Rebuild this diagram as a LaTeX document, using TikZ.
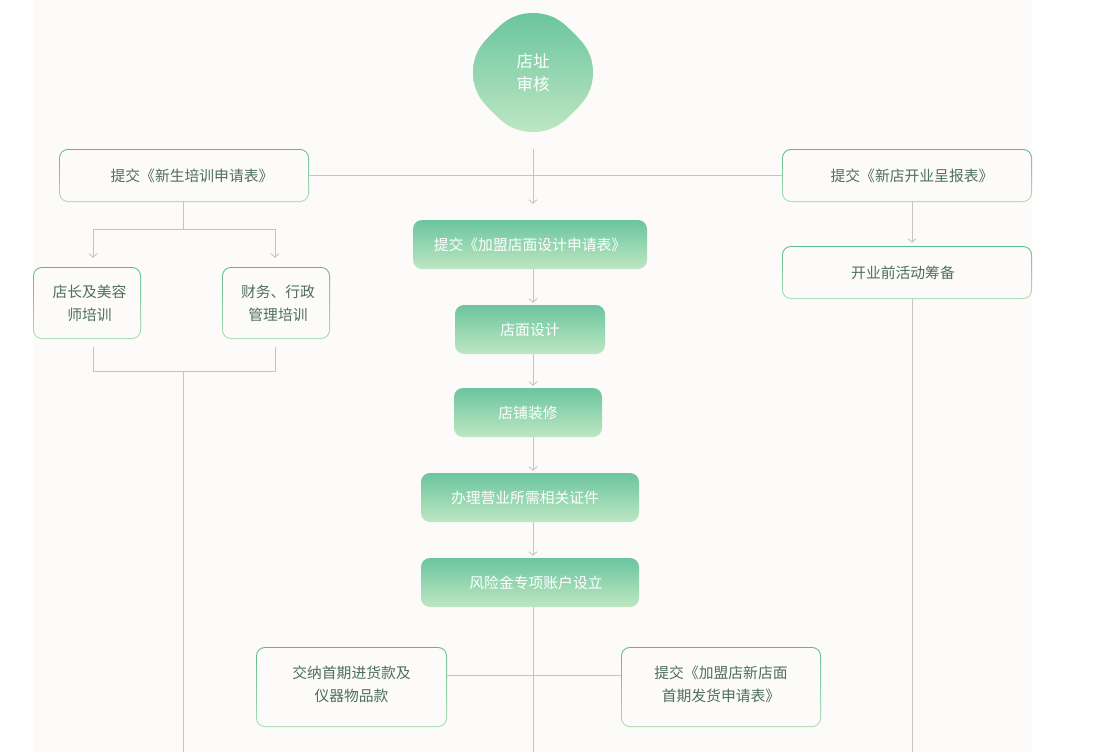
\documentclass[tikz,border=0pt]{standalone}
\usepackage{fontspec}
\setmainfont{Noto Sans CJK SC}
\usetikzlibrary{arrows.meta}
\definecolor{bgc}{HTML}{FCFBF9}
\definecolor{linec}{HTML}{C4C4C4}
\definecolor{bdA}{HTML}{5DB98B}
\definecolor{bdB}{HTML}{A8DDB0}
\definecolor{fA}{HTML}{6BC59F}
\definecolor{fB}{HTML}{BDE7C2}
\definecolor{txt}{HTML}{4E6E5E}
\tikzset{
  outbox/.style={rounded corners=9pt, inner sep=0pt, align=center, text=txt,
    top color=bdA, bottom color=bdB,
    font=\fontsize{14.8pt}{23pt}\selectfont,
    path picture={\fill[bgc,rounded corners=8pt]
      ([shift={(1pt,-1pt)}]path picture bounding box.north west) rectangle
      ([shift={(-1pt,1pt)}]path picture bounding box.south east);}},
  fillbox/.style={rounded corners=9pt, inner sep=0pt, align=center, text=white,
    top color=fA, bottom color=fB, minimum height=49pt,
    font=\fontsize{14.8pt}{23pt}\selectfont},
  conn/.style={draw=linec, line width=0.9pt},
  arr/.style={conn, -{Straight Barb[length=3.5pt,width=8pt]}},
}
\begin{document}
\begin{tikzpicture}[x=1pt,y=-1pt]
\useasboundingbox (0,0) rectangle (1102,752);
\fill[white] (0,0) rectangle (1102,752);
\fill[bgc] (33,0) rectangle (1032,752);

% blob
\shade[top color=fA, bottom color=fB]
  (533,13) .. controls (555,13) and (566,25.5) .. (573,32.5)
  .. controls (580,39.5) and (593,50.5) .. (593,72.5)
  .. controls (593,94.5) and (580,105.5) .. (573,112.5)
  .. controls (566,119.5) and (555,132) .. (533,132)
  .. controls (511,132) and (500,119.5) .. (493,112.5)
  .. controls (486,105.5) and (473,94.5) .. (473,72.5)
  .. controls (473,50.5) and (486,39.5) .. (493,32.5)
  .. controls (500,25.5) and (511,13) .. (533,13) -- cycle;
\node[text=white, align=center, font=\fontsize{16.5pt}{23pt}\selectfont] (audit) at (533,73) {店址\\审核};

% outline boxes
\node[outbox, minimum width=250pt, minimum height=53pt] (L0) at (184,175.5) {\hspace{16pt}提交《新生培训申请表》};
\node[outbox, minimum width=250pt, minimum height=53pt] (R0) at (907,175.5) {\hspace{10pt}提交《新店开业呈报表》};
\node[outbox, minimum width=250pt, minimum height=53pt] (R1) at (907,272.5) {开业前活动筹备\hspace{8pt}};
\node[outbox, minimum width=108pt, minimum height=72pt] (LL) at (87,303) {\hspace{5pt}店长及美容\\\hspace{5pt}师培训};
\node[outbox, minimum width=108pt, minimum height=72pt] (LR) at (276,303) {\hspace{4pt}财务、行政\\\hspace{4pt}管理培训};
\node[outbox, minimum width=191pt, minimum height=80pt] (B1) at (351.5,687) {交纳首期进货款及\\仪器物品款\\[-16pt]};
\node[outbox, minimum width=200pt, minimum height=80pt] (B2) at (721,687) {提交《加盟店新店面\\首期发货申请表》\\[-16pt]};

% filled boxes
\node[fillbox, minimum width=234pt] (C1) at (530,244.5) {提交《加盟店面设计申请表》};
\node[fillbox, minimum width=150pt] (C2) at (530,329.5) {店面设计};
\node[fillbox, minimum width=148pt] (C3) at (528,412.5) {店铺装修};
\node[fillbox, minimum width=218pt] (C4) at (530,497.5) {办理营业所需相关证件\hspace{10pt}};
\node[fillbox, minimum width=218pt] (C5) at (530,582.5) {\hspace{12pt}风险金专项账户设立};

% coordinates
\coordinate (ctop) at (533,149);
\coordinate (cbot) at (533,752);
\coordinate (lj) at (183,229);
\coordinate (lm) at (183,371);
\coordinate (lbot) at (183,752);
\coordinate (rbot) at (912,752);

% top horizontal
\draw[conn] (L0.east) -- (R0.west);

% centre column
\draw[arr, shorten >=16pt] (ctop) -- (ctop |- C1.north);
\draw[arr, shorten >=2pt] (ctop |- C1.south) -- (ctop |- C2.north);
\draw[arr, shorten >=2pt] (ctop |- C2.south) -- (ctop |- C3.north);
\draw[arr, shorten >=2pt] (ctop |- C3.south) -- (ctop |- C4.north);
\draw[arr, shorten >=2pt] (ctop |- C4.south) -- (ctop |- C5.north);
\draw[conn] (ctop |- C5.south) -- (cbot);
\draw[conn] ([yshift=12pt]B1.east) -- ([yshift=12pt]B2.west);

% left column
\draw[conn] (L0.south -| lj) -- (lj);
\draw[arr, shorten >=9pt] (lj) -| ([xshift=6pt]LL.north);
\draw[arr, shorten >=9pt] (lj) -| ([xshift=-1pt]LR.north);
\draw[conn] ([xshift=6pt,yshift=-8pt]LL.south) |- (lm);
\draw[conn] ([xshift=-1pt,yshift=-8pt]LR.south) |- (lm);
\draw[conn] (lm) -- (lbot);

% right column
\draw[arr, shorten >=3pt] ([xshift=5pt]R0.south) -- ([xshift=5pt]R1.north);
\draw[conn] ([xshift=5pt]R1.south) -- (rbot);
\end{tikzpicture}
\end{document}
